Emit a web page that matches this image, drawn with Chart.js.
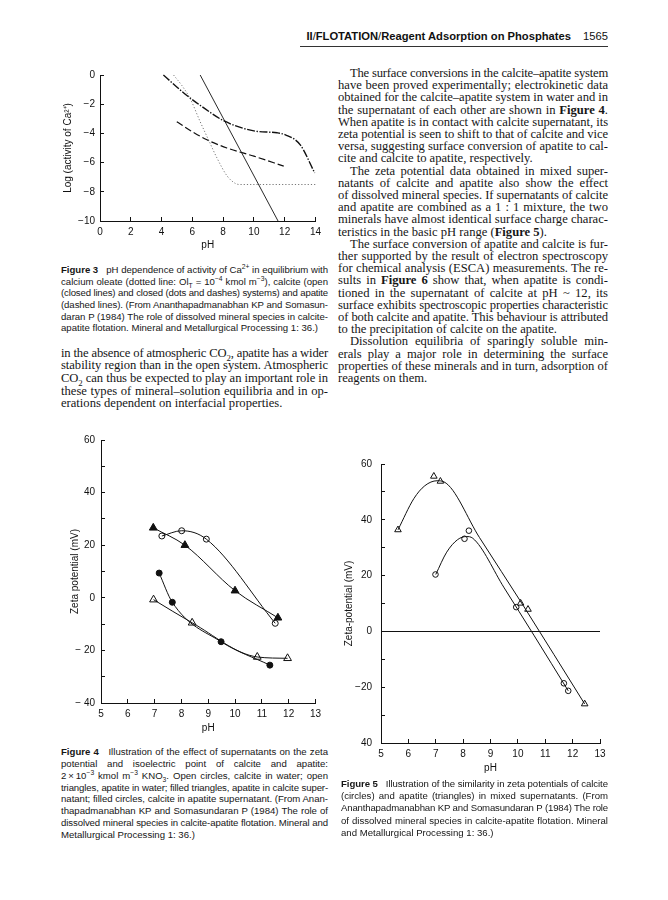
<!DOCTYPE html>
<html>
<head>
<meta charset="utf-8">
<script src="https://cdn.jsdelivr.net/npm/chart.js@4.4.1/dist/chart.umd.min.js"></script>
<style>
  body { margin: 0; background: #fff; }
  #page { position: relative; width: 668px; height: 900px; overflow: hidden; background: #fff; }
  .t { position: absolute; white-space: nowrap; color: #161616; }
  .j { white-space: normal; text-align: justify; text-align-last: justify; }
  .corpo { font-family: "Liberation Serif", "DejaVu Serif", serif; font-size: 12.6px; }
  .leg { font-family: "Liberation Sans", Arial, sans-serif; font-size: 9.6px; }
  sup, sub { font-size: 70%; line-height: 0; }
  canvas { position: absolute; }
  .cab { position: absolute; font-family: "Liberation Sans", Arial, sans-serif; font-size: 11.2px; color: #111; }
</style>
</head>
<body>
<div id="page">
  <div class="cab" style="left:270px; top:30px; width:301px; text-align:right; font-weight:bold;">II<span style="font-weight:normal">/</span>FLOTATION<span style="font-weight:normal">/</span>Reagent Adsorption on Phosphates</div>
  <div class="cab" style="left:575px; top:30px; width:33px; text-align:right;">1565</div>
  <div style="position:absolute; left:300px; top:46px; width:308px; border-top:1px solid #333;"></div>

  <canvas id="fig3" width="290" height="200" style="left:40px; top:60px;"></canvas>
  <canvas id="fig4" width="290" height="320" style="left:40px; top:424px;"></canvas>
  <canvas id="fig5" width="290" height="340" style="left:330px; top:445px;"></canvas>
</div>

<script>
// ---- Figura 3: log atividade Ca2+ vs pH ----
var f3PhOleato = [4.78, 5.32, 5.86, 6.51, 7.05, 7.6, 8.25, 8.8, 9.1, 14];
var f3LogOleato = [0, -0.72, -1.62, -3.2, -4.44, -5.68, -6.9, -7.43, -7.5, -7.5];
var f3PhCalcitaAberta = [6.51, 11.57];
var f3LogCalcitaAberta = [0, -10];
var f3PhCalcitaFechada = [4.12, 5.5, 6.5, 8.07, 10, 11.5, 12.05, 13, 13.95];
var f3LogCalcitaFechada = [0, -1.28, -2.07, -3.15, -3.83, -3.96, -4.1, -4.77, -6.7];
var f3PhApatita = [4.99, 5.97, 6.95, 8.25, 10, 11.94];
var f3LogApatita = [-3.2, -3.87, -4.44, -5.0, -5.56, -6.24];

// ---- Figura 4: potencial zeta vs pH ----
var f4PhCirculoAberto = [7.27, 8.01, 8.93, 11.5];
var f4ZetaCirculoAberto = [23.5, 25.5, 22.3, -9.7];
var f4PhTrianguloCheio = [6.95, 8.13, 10.0, 11.6];
var f4ZetaTrianguloCheio = [26.6, 20.0, 2.7, -7.6];
var f4PhCirculoCheio = [7.17, 7.66, 9.48, 11.3];
var f4ZetaCirculoCheio = [9.4, -1.7, -16.7, -25.6];
var f4PhTrianguloAberto = [6.96, 8.4, 10.83, 11.96];
var f4ZetaTrianguloAberto = [-0.7, -9.5, -22.5, -23.0];

// ---- Figura 5: sobrenadantes misturados ----
var f5PhApatita = [5.62, 6.93, 7.17, 10.1, 10.37, 12.44];
var f5ZetaApatita = [36.4, 55.6, 53.8, 10.1, 7.9, -26];
var f5PhCalcita = [6.99, 8.05, 8.21, 9.94, 11.68, 11.84];
var f5ZetaCalcita = [20.4, 33.2, 36.1, 8.7, -18.6, -21.3];
// curvas desenhadas a mao no original
var f5PhCurvaApatita = [5.62, 6.2, 6.6, 7.05, 7.3, 8.6, 10.2, 12.44];
var f5ZetaCurvaApatita = [36.4, 47.6, 52.2, 54, 53.6, 33.6, 9.2, -26];
var f5PhCurvaCalcita = [7.0, 7.4, 7.8, 8.12, 8.35, 9.5, 10.6, 11.84];
var f5ZetaCurvaCalcita = [20.4, 28.4, 32.9, 34, 33.4, 15.6, -1.6, -21.3];
var f5YTicks = [60, 40, 20, 0, -20, -40];
var f5YTickLabels = ['60', '40', '20', '0', '\u221220', '40'];

function pontos(xs, ys) {
  return xs.map(function(x, i) { return { x: x, y: ys[i] }; });
}

var fonte = { family: '"Liberation Sans", Arial, sans-serif', size: 10 };

function linha(xs, ys, extra) {
  var d = {
    data: pontos(xs, ys),
    showLine: true,
    borderColor: '#111',
    borderWidth: 1,
    pointRadius: 0,
    tension: 0.4,
    cubicInterpolationMode: 'monotone',
    clip: false
  };
  for (var k in extra) d[k] = extra[k];
  return d;
}

function marcas(xs, ys, estilo, cheio, raio) {
  return {
    data: pontos(xs, ys),
    showLine: false,
    pointStyle: estilo,
    pointRadius: raio,
    pointBackgroundColor: cheio ? '#111' : '#fff',
    pointBorderColor: '#111',
    pointBorderWidth: 1,
    clip: false
  };
}

function novoGrafico(id, datasets, c) {
  return new Chart(document.getElementById(id), {
    type: 'scatter',
    data: { datasets: datasets },
    options: {
      responsive: false,
      animation: false,
      layout: { padding: c.pad },
      plugins: { legend: { display: false }, tooltip: { enabled: false } },
      scales: {
        x: {
          type: 'linear', min: c.xMin, max: c.xMax,
          ticks: { stepSize: c.xStep, padding: c.xTickPad, font: fonte, color: '#111', maxRotation: 0, autoSkip: false },
          grid: { drawOnChartArea: false, tickLength: -4, tickColor: '#111', tickWidth: 1 },
          border: { color: '#111', width: 1 },
          title: { display: true, text: 'pH', font: fonte, color: '#111', padding: { top: 0, bottom: c.xTitlePad } },
          afterFit: function(s) { s.height = c.xH; }
        },
        y: {
          type: 'linear', min: c.yMin, max: c.yMax,
          ticks: { stepSize: c.yStep, padding: c.yTickPad, font: fonte, color: '#111', autoSkip: false, callback: c.yFmt },
          grid: c.yGrid || { drawOnChartArea: false, tickLength: -4, tickColor: '#111', tickWidth: 1 },
          border: { color: '#111', width: 1 },
          title: { display: true, text: c.yTitle, font: fonte, color: '#111', padding: { top: c.yTitlePad, bottom: 0 } },
          afterFit: function(s) { s.width = c.yW; }
        }
      }
    }
  });
}

// Figura 3
novoGrafico('fig3', [
  linha(f3PhCalcitaFechada, f3LogCalcitaFechada, { borderWidth: 1.4, borderDash: [8, 1.6, 1.4, 1.6] }),
  linha(f3PhApatita, f3LogApatita, { borderWidth: 1.2, borderDash: [7, 3] }),
  linha(f3PhOleato, f3LogOleato, { borderColor: '#777', borderWidth: 1, borderDash: [1.2, 2] }),
  linha(f3PhCalcitaAberta, f3LogCalcitaAberta, { borderWidth: 0.9, tension: 0 })
], {
  pad: { top: 10, right: 14, left: 0, bottom: 0 },
  xMin: 0, xMax: 14, xStep: 2, xTickPad: 9, xTitlePad: 9, xH: 39,
  yMin: -10, yMax: 0, yStep: 2, yTickPad: 9, yTitlePad: 22, yW: 60,
  yTitle: 'Log (activity of Ca\u00b2\u207a)',
  yFmt: function(v) { return v === 0 ? '0' : '\u2212' + Math.abs(v); }
});

// Figura 4
novoGrafico('fig4', [
  linha(f4PhCirculoAberto, f4ZetaCirculoAberto),
  linha(f4PhTrianguloCheio, f4ZetaTrianguloCheio),
  linha(f4PhCirculoCheio, f4ZetaCirculoCheio),
  linha(f4PhTrianguloAberto, f4ZetaTrianguloAberto),
  marcas(f4PhCirculoAberto, f4ZetaCirculoAberto, 'circle', false, 3),
  marcas(f4PhTrianguloCheio, f4ZetaTrianguloCheio, 'triangle', true, 4.5),
  marcas(f4PhCirculoCheio, f4ZetaCirculoCheio, 'circle', true, 3),
  marcas(f4PhTrianguloAberto, f4ZetaTrianguloAberto, 'triangle', false, 4.5)
], {
  pad: { top: 4, right: 10, left: 0, bottom: 0 },
  xMin: 5, xMax: 13, xStep: 1, xTickPad: 9, xTitlePad: 10, xH: 41,
  yMin: -40, yMax: 60, yStep: 10, yTickPad: 10, yTitlePad: 29, yW: 61,
  yTitle: 'Zeta potential (mV)',
  yFmt: function(v) { return v % 20 !== 0 ? '' : (v < 0 ? '\u2212 ' + Math.abs(v) : String(v)); }
});

// Figura 5
novoGrafico('fig5', [
  linha(f5PhCurvaApatita, f5ZetaCurvaApatita),
  linha(f5PhCurvaCalcita, f5ZetaCurvaCalcita),
  marcas(f5PhApatita, f5ZetaApatita, 'triangle', false, 3.8),
  marcas(f5PhCalcita, f5ZetaCalcita, 'circle', false, 2.8)
], {
  pad: { top: 6, right: 20, left: 0, bottom: 0 },
  xMin: 5, xMax: 13, xStep: 1, xTickPad: 9, xTitlePad: 11, xH: 42,
  yMin: -40, yMax: 60, yStep: 10, yTickPad: 13, yTitlePad: 13, yW: 51,
  yTitle: 'Zeta-potential (mV)',
  yFmt: function(v) {
    var i = f5YTicks.indexOf(v);
    return i < 0 ? '' : f5YTickLabels[i];
  },
  yGrid: {
    drawOnChartArea: true, tickLength: -4, tickColor: '#111', tickWidth: 1, lineWidth: 1,
    color: function(ctx) { return ctx.tick && ctx.tick.value === 0 ? '#111' : 'rgba(0,0,0,0)'; }
  }
});

// ---- textos da pagina ----
var page = document.getElementById('page');

function colocarLinhas(linhas, x, yCentro, largura, passo, classe) {
  linhas.forEach(function(txt, i) {
    var recuo = txt.charAt(0) === '>';
    var ultima = txt.slice(-1) === '|';
    txt = txt.replace(/^>/, '').replace(/\|$/, '');
    var div = document.createElement('div');
    div.className = 't ' + classe + (ultima ? '' : ' j');
    div.style.left = (x + (recuo ? 12 : 0)) + 'px';
    div.style.top = (yCentro - passo / 2 + i * passo) + 'px';
    div.style.width = (largura - (recuo ? 12 : 0)) + 'px';
    div.style.lineHeight = passo + 'px';
    div.innerHTML = txt;
    page.appendChild(div);
    // aperta o espacamento se a linha quebrar (ou passar da largura)
    var ls = 0;
    while ((div.offsetHeight > passo * 1.5 || div.scrollWidth > div.clientWidth + 1) && ls > -1.5) {
      ls -= 0.02;
      div.style.letterSpacing = ls + 'px';
    }
  });
}

colocarLinhas([
  '<b>Figure 3</b>&nbsp;&nbsp; pH dependence of activity of Ca<sup>2+</sup> in equilibrium with',
  'calcium oleate (dotted line: Ol<sub>T</sub> = 10<sup>\u22124</sup> kmol m<sup>\u22123</sup>), calcite (open',
  '(closed lines) and closed (dots and dashes) systems) and apatite',
  '(dashed lines). (From Ananthapadmanabhan KP and Somasun-',
  'daran P (1984) The role of dissolved mineral species in calcite-',
  'apatite flotation. Mineral and Metallurgical Processing 1: 36.)|'
], 61, 270, 267, 11.6, 'leg');

colocarLinhas([
  'in the absence of atmospheric CO<sub>2</sub>, apatite has a wider',
  'stability region than in the open system. Atmospheric',
  'CO<sub>2</sub> can thus be expected to play an important role in',
  'these types of mineral\u2013solution equilibria and in op-',
  'erations dependent on interfacial properties.|'
], 61, 353, 267, 12.6, 'corpo');

colocarLinhas([
  '<b>Figure 4</b>&nbsp;&nbsp; Illustration of the effect of supernatants on the zeta',
  'potential and isoelectric point of calcite and apatite:',
  '2\u2009\u00d7\u200910<sup>\u22123</sup> kmol m<sup>\u22123</sup> KNO<sub>3</sub>. Open circles, calcite in water; open',
  'triangles, apatite in water; filled triangles, apatite in calcite super-',
  'natant; filled circles, calcite in apatite supernatant. (From Anan-',
  'thapadmanabhan KP and Somasundaran P (1984) The role of',
  'dissolved mineral species in calcite-apatite flotation. Mineral and',
  'Metallurgical Processing 1: 36.)|'
], 61, 752, 267, 11.8, 'leg');

colocarLinhas([
  '>The surface conversions in the calcite\u2013apatite system',
  'have been proved experimentally; electrokinetic data',
  'obtained for the calcite\u2013apatite system in water and in',
  'the supernatant of each other are shown in <b>Figure 4</b>.',
  'When apatite is in contact with calcite supernatant, its',
  'zeta potential is seen to shift to that of calcite and vice',
  'versa, suggesting surface conversion of apatite to cal-',
  'cite and calcite to apatite, respectively.|',
  '>The zeta potential data obtained in mixed super-',
  'natants of calcite and apatite also show the effect',
  'of dissolved mineral species. If supernatants of calcite',
  'and apatite are combined as a 1 : 1 mixture, the two',
  'minerals have almost identical surface charge charac-',
  'teristics in the basic pH range (<b>Figure 5</b>).|',
  '>The surface conversion of apatite and calcite is fur-',
  'ther supported by the result of electron spectroscopy',
  'for chemical analysis (ESCA) measurements. The re-',
  'sults in <b>Figure 6</b> show that, when apatite is condi-',
  'tioned in the supernatant of calcite at pH ~ 12, its',
  'surface exhibits spectroscopic properties characteristic',
  'of both calcite and apatite. This behaviour is attributed',
  'to the precipitation of calcite on the apatite.|',
  '>Dissolution equilibria of sparingly soluble min-',
  'erals play a major role in determining the surface',
  'properties of these minerals and in turn, adsorption of',
  'reagents on them.|'
], 338, 73, 270, 12.2, 'corpo');

colocarLinhas([
  '<b>Figure 5</b>&nbsp;&nbsp; Illustration of the similarity in zeta potentials of calcite',
  '(circles) and apatite (triangles) in mixed supernatants. (From',
  'Ananthapadmanabhan KP and Somasundaran P (1984) The role',
  'of dissolved mineral species in calcite-apatite flotation. Mineral',
  'and Metallurgical Processing 1: 36.)|'
], 341, 784, 267, 12.3, 'leg');
</script>
</body>
</html>
